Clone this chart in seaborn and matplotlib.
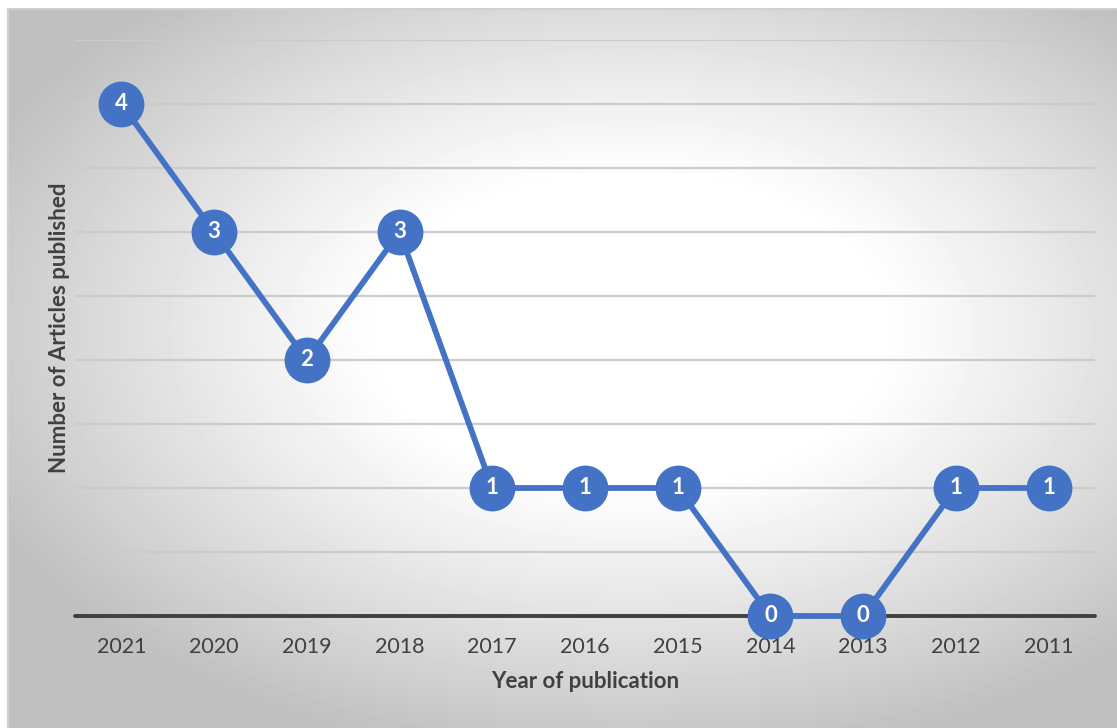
import numpy as np
import pandas as pd
import matplotlib
matplotlib.use("Agg")
import matplotlib.pyplot as plt
import seaborn as sns

years = ["2021", "2020", "2019", "2018", "2017", "2016", "2015", "2014", "2013", "2012", "2011"]
articles = [4, 3, 2, 3, 1, 1, 1, 0, 0, 1, 1]

sns.set_theme(style="white")
plt.rcParams["font.family"] = ["Lato", "DejaVu Sans"]

W, H, DPI = 1117, 728, 100
fig = plt.figure(figsize=(W / DPI, H / DPI), dpi=DPI)
fig.patch.set_facecolor("white")

# radial grey-to-white backdrop of the chart frame
x0, y0 = 8, 9
bg = fig.add_axes([x0 / W, 0, 1 - x0 / W, 1 - y0 / H], zorder=0)
gx = np.arange(x0, W)
gy = np.arange(y0, H)
XX, YY = np.meshgrid(gx, gy)
cx, cy = 630, 330
r = np.sqrt(((XX - cx) / 620.0) ** 2 + ((YY - cy) / 380.0) ** 2)
t = np.clip((r - 0.40) / 0.75, 0, 1)
shade = 1.0 - 0.25 * t ** 1.1
shade = np.maximum(shade, 0.75)
bg.imshow(shade, cmap="gray", vmin=0, vmax=1, aspect="auto", interpolation="bilinear")
bg.set_axis_off()
# thin frame border on top and left
fig.add_artist(plt.Line2D([x0 / W, 1], [1 - y0 / H, 1 - y0 / H], color="#d0d0d0", lw=1.5, transform=fig.transFigure))
fig.add_artist(plt.Line2D([x0 / W, x0 / W], [0, 1 - y0 / H], color="#d0d0d0", lw=1.5, transform=fig.transFigure))

left, right = 75 / W, 1095 / W
bottom, top = 1 - 616 / H, 1 - 40 / H
ax = fig.add_axes([left, bottom, right - left, top - bottom], zorder=1)
ax.patch.set_alpha(0)

df = pd.DataFrame({"pos": np.arange(len(years)), "year": years, "count": articles})

ax.set_xlim(-0.5, len(years) - 0.5)
ax.set_ylim(0, 4.5)

for yv in np.arange(0.5, 4.51, 0.5):
    ax.axhline(yv, color="#cbcbcb", lw=1.6, zorder=1)
ax.axhline(0, color="#404040", lw=2.8, zorder=2, clip_on=False)

blue = "#4472C4"
sns.lineplot(data=df, x="pos", y="count", ax=ax, color=blue, lw=4.2,
             marker="o", markersize=33, markeredgewidth=0, zorder=3, clip_on=False)

for p, c in zip(df["pos"], df["count"]):
    ax.text(p, c, str(c), color="white", fontsize=16, fontweight="bold",
            ha="center", va="center", zorder=4)

ax.set_xticks(df["pos"])
ax.set_xticklabels(years)
ax.set_yticks([])
ax.tick_params(axis="x", length=0, pad=15, labelsize=15.5, labelcolor="#404040")
for s in ax.spines.values():
    s.set_visible(False)

ax.set_xlabel("Year of publication", fontsize=16, fontweight="bold", color="#404040", labelpad=10)
ax.set_ylabel("")
fig.text(60 / W, 1 - 328 / H, "Number of Articles published", rotation=90,
         fontsize=16, fontweight="bold", color="#404040", ha="center", va="center")

fig.savefig("out.png", dpi=DPI)
